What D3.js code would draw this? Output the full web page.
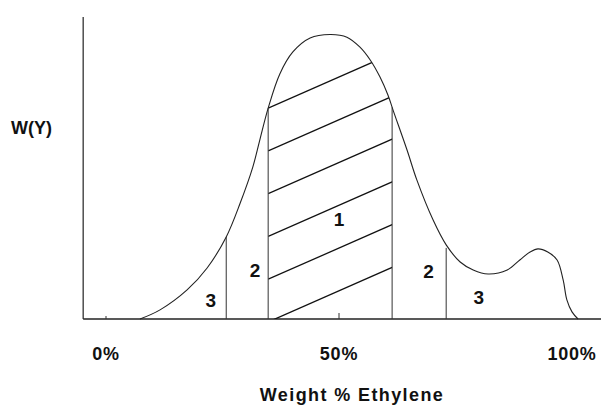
<!DOCTYPE html>
<html>
<head>
<meta charset="utf-8">
<script src="https://cdn.jsdelivr.net/npm/d3@7"></script>
<style>
  body { margin: 0; background: #fff; }
  text { font-family: "Liberation Sans", Arial, sans-serif; font-weight: bold; fill: #111; }
</style>
</head>
<body>
<svg id="chart" width="601" height="406"></svg>
<script>
// distribution curve: weight % ethylene vs W(Y)
const ethylene = [7.3, 11.6, 17.4, 21.7, 25.8, 28.8, 31.5, 33.0, 34.8, 37.3, 40.1, 43.8, 48.1, 51.7, 54.5,
  56.7, 58.8, 60.5, 61.6, 64.6, 66.7, 70.2, 73.0, 76.0, 78.8, 82.0, 86.1, 88.8, 91.0, 92.7, 94.8,
  96.8, 98.1, 98.9, 100.0, 101.3];
const weight = [0, 3.2, 10.2, 17.9, 28.8, 40.7, 53.3, 62.8, 74.0, 86.0, 93.7, 98.6, 99.8, 98.9, 95.4,
  90.9, 84.9, 78.6, 73.3, 59.3, 48.8, 34.7, 26.0, 20.0, 17.2, 15.8, 17.2, 20.7, 23.5, 24.6, 23.5,
  20.7, 13.7, 6.7, 2.5, 0];

// fraction boundaries (weight % ethylene)
const boundaries = [25.8, 34.8, 61.4, 73.0];

// region labels: [text, x %, y value]
const regionLabels = ["3", "2", "1", "2", "3"];
const labelX = [22.5, 32.0, 50.0, 69.2, 80.0];
const labelY = [4.2, 14.7, 32.6, 14.4, 5.3];

const tickValues = [0, 50, 100];
const tickLabels = ["0%", "50%", "100%"];

const svg = d3.select("#chart");
const x = d3.scaleLinear().domain([0, 100]).range([106, 572]);
const y = d3.scaleLinear().domain([0, 100]).range([319, 34]);

const pts = ethylene.map((e, i) => [e, weight[i]]);

// axes
svg.append("line")
  .attr("x1", x(-4.9)).attr("x2", x(-4.9))
  .attr("y1", y(0)).attr("y2", y(106))
  .attr("stroke", "#222").attr("stroke-width", 1.2);
svg.append("line")
  .attr("x1", x(-4.9)).attr("x2", 601)
  .attr("y1", y(0)).attr("y2", y(0))
  .attr("stroke", "#222").attr("stroke-width", 1.3);

// small ticks on the baseline
svg.selectAll(".tick")
  .data(tickValues.filter(d => d !== 100))
  .join("line")
  .attr("x1", d => x(d)).attr("x2", d => x(d))
  .attr("y1", y(0)).attr("y2", d => d === 0 ? y(0) - 3 : y(0) - 6)
  .attr("stroke", "#333").attr("stroke-width", 1);

svg.selectAll(".tlabel")
  .data(tickValues)
  .join("text")
  .attr("x", d => x(d))
  .attr("y", 360)
  .attr("text-anchor", "middle")
  .attr("font-size", 18)
  .attr("letter-spacing", 0.8)
  .text((d, i) => tickLabels[i]);

svg.append("text")
  .attr("x", 352).attr("y", 401)
  .attr("text-anchor", "middle")
  .attr("font-size", 18)
  .attr("letter-spacing", 1.4)
  .text("Weight % Ethylene");

svg.append("text")
  .attr("x", 11).attr("y", 134)
  .attr("font-size", 18)
  .text("W(Y)");

// curve
const line = d3.line().x(d => x(d[0])).y(d => y(d[1])).curve(d3.curveCatmullRom.alpha(0.5));
const curve = svg.append("path")
  .attr("d", line(pts))
  .attr("fill", "none")
  .attr("stroke", "#222")
  .attr("stroke-width", 1.1);

// find curve height (pixel) at a pixel x
const node = curve.node();
const total = node.getTotalLength();
function curveYAt(px) {
  let lo = 0, hi = total;
  for (let k = 0; k < 40; k++) {
    const mid = (lo + hi) / 2;
    if (node.getPointAtLength(mid).x < px) lo = mid; else hi = mid;
  }
  return node.getPointAtLength(lo).y;
}

// hatched region 1, clipped to the area under the curve and between the boundaries
const b1 = x(boundaries[1]), b2 = x(boundaries[2]);
const area = d3.area().x(d => x(d[0])).y0(y(0)).y1(d => y(d[1])).curve(d3.curveCatmullRom.alpha(0.5));
svg.append("clipPath").attr("id", "region1")
  .append("path")
  .attr("d", area(pts));
svg.append("clipPath").attr("id", "band")
  .append("rect")
  .attr("x", b1).attr("y", 0)
  .attr("width", b2 - b1).attr("height", y(0));

const hatchG = svg.append("g").attr("clip-path", "url(#band)")
  .append("g").attr("clip-path", "url(#region1)");
const slope = 0.44;
const topY = curveYAt(b1);
const spacing = (y(0) + 3 - topY) / 5;
d3.range(6).forEach(k => {
  const c = topY + k * spacing;
  hatchG.append("line")
    .attr("x1", b1).attr("y1", c)
    .attr("x2", b2 + 2).attr("y2", c - slope * (b2 + 2 - b1))
    .attr("stroke", "#111").attr("stroke-width", 1.3);
});

// vertical fraction boundaries
svg.selectAll(".bound")
  .data(boundaries)
  .join("line")
  .attr("x1", d => x(d)).attr("x2", d => x(d))
  .attr("y1", y(0))
  .attr("y2", (d, i) => curveYAt(x(d)) + (i === 3 ? 3 : 0))
  .attr("stroke", "#333").attr("stroke-width", 1);

svg.selectAll(".rlabel")
  .data(regionLabels)
  .join("text")
  .attr("x", (d, i) => x(labelX[i]))
  .attr("y", (d, i) => y(labelY[i]))
  .attr("text-anchor", "middle")
  .attr("font-size", 19)
  .text(d => d);
</script>
</body>
</html>
